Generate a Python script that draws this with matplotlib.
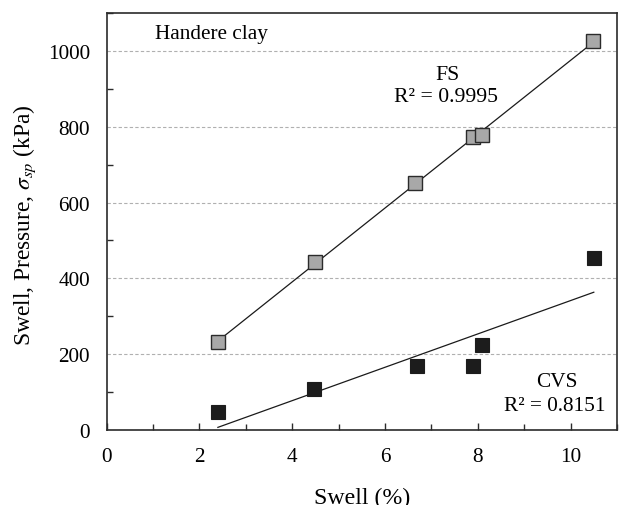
import numpy as np
import matplotlib
matplotlib.use("Agg")
import matplotlib.pyplot as plt
from matplotlib.ticker import MultipleLocator

plt.rcParams['font.family'] = ['Liberation Serif', 'DejaVu Serif']
plt.rcParams['mathtext.fontset'] = 'stix'

# Free swell (FS) and constant-volume swell (CVS) tests on Handere clay
fs_swell = [2.4, 4.5, 6.65, 7.9, 8.1, 10.48]
fs_pressure = [232, 444, 652, 773, 779, 1025]
cvs_swell = [2.4, 4.48, 6.68, 7.9, 8.1, 10.5]
cvs_pressure = [48, 108, 169, 169, 224, 453]

fs_label = ["FS", "R\u00b2 = 0.9995"]
cvs_label = ["CVS", "R\u00b2 = 0.8151"]

fig = plt.figure(figsize=(6.27, 5.06), dpi=100)
ax = fig.add_axes([106.5 / 627, 1 - 431 / 506, (617 - 106.5) / 627, (431 - 14) / 506])

ax.set_xlim(0, 11)
ax.set_ylim(0, 1100)

# linear trend lines over the measured range
for xs, ys in [(fs_swell, fs_pressure), (cvs_swell, cvs_pressure)]:
    k, b = np.polyfit(xs, ys, 1)
    xx = np.array([min(xs), max(xs)])
    ax.plot(xx, k * xx + b, color='#1a1a1a', lw=0.9, zorder=3)

ax.plot(fs_swell, fs_pressure, ls='none', marker='s', ms=9.5,
        mfc='#a8a8a8', mec='#2b2b2b', mew=1.0, zorder=4)
ax.plot(cvs_swell, cvs_pressure, ls='none', marker='s', ms=10,
        mfc='#1c1c1c', mec='#1c1c1c', mew=0.8, zorder=4)

ax.xaxis.set_major_locator(MultipleLocator(2))
ax.xaxis.set_minor_locator(MultipleLocator(1))
ax.yaxis.set_major_locator(MultipleLocator(200))
ax.yaxis.set_minor_locator(MultipleLocator(100))
ax.tick_params(which='both', direction='in', color='#2b2b2b', width=1.0,
               labelsize=15.3, pad=12, top=False, right=False)
ax.tick_params(which='major', length=5)
ax.tick_params(which='minor', length=4)
ax.tick_params(axis='y', which='major', length=0)

ax.yaxis.grid(True, which='major', ls=(0, (3, 2)), color='#b0b0b0', lw=0.8)
ax.set_axisbelow(True)
for s in ax.spines.values():
    s.set_color('#2b2b2b')
    s.set_linewidth(1.2)

ax.set_xlabel('Swell (%)', fontsize=17.2, labelpad=15)
ax.set_ylabel(r'Swell, Pressure, $\sigma_{sp}$ (kPa)', fontsize=16.9)
ax.yaxis.set_label_coords(-0.134, 0.494)

ax.text(155 / 627, 1 - 35 / 506, 'Handere clay', transform=fig.transFigure,
        fontsize=15.3, ha='left', va='center')
ax.text(447 / 627, 1 - 75 / 506, fs_label[0], transform=fig.transFigure,
        fontsize=15.7, ha='center', va='center')
ax.text(446 / 627, 1 - 97 / 506, fs_label[1], transform=fig.transFigure,
        fontsize=15.7, ha='center', va='center')
ax.text(557 / 627, 1 - 383 / 506, cvs_label[0], transform=fig.transFigure,
        fontsize=15.3, ha='center', va='center')
ax.text(555 / 627, 1 - 407 / 506, cvs_label[1], transform=fig.transFigure,
        fontsize=15.3, ha='center', va='center')

fig.savefig('out.png', dpi=100)
